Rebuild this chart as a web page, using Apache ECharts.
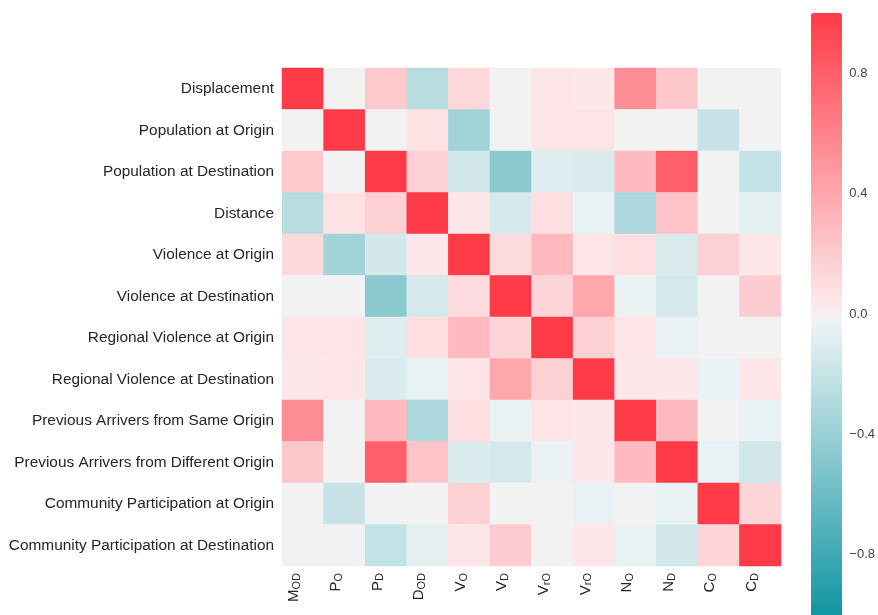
<!DOCTYPE html>
<html>
<head>
<meta charset="utf-8">
<title>Correlation matrix</title>
<script src="https://cdn.jsdelivr.net/npm/echarts@6/dist/echarts.min.js"></script>
<style>
  html, body { margin: 0; padding: 0; background: #ffffff; }
  #chart { width: 878px; height: 615px; }
</style>
</head>
<body>
<div id="chart"></div>
<script>
// Variable names, top to bottom
const rowLabels = [
  'Displacement',
  'Population at Origin',
  'Population at Destination',
  'Distance',
  'Violence at Origin',
  'Violence at Destination',
  'Regional Violence at Origin',
  'Regional Violence at Destination',
  'Previous Arrivers from Same Origin',
  'Previous Arrivers from Different Origin',
  'Community Participation at Origin',
  'Community Participation at Destination'
];

// Short column codes (rich text: capital + small-caps subscript)
const colLabels = [
  'M{s|OD}', 'P{s|O}', 'P{s|D}', 'D{s|OD}', 'V{s|O}', 'V{s|D}',
  'V{s|rO}', 'V{s|rO}', 'N{s|O}', 'N{s|D}', 'C{s|O}', 'C{s|D}'
];

// Colour bar tick labels
const colorbarTicks = [-0.8, -0.4, 0.0, 0.4, 0.8];

// Correlation coefficients, one row per variable
const corrDisplacement   = [ 1.00,  0.00,  0.22, -0.25,  0.13,  0.00,  0.07,  0.05,  0.55,  0.23,  0.00,  0.00];
const corrPopOrigin      = [ 0.00,  1.00,  0.00,  0.08, -0.35,  0.00,  0.07,  0.07,  0.00,  0.00, -0.18,  0.00];
const corrPopDest        = [ 0.22,  0.00,  1.00,  0.18, -0.13, -0.45, -0.08, -0.10,  0.30,  0.80,  0.00, -0.20];
const corrDistance       = [-0.25,  0.08,  0.18,  1.00,  0.05, -0.12,  0.10, -0.04, -0.30,  0.25,  0.00, -0.06];
const corrViolOrigin     = [ 0.13, -0.35, -0.13,  0.05,  1.00,  0.12,  0.30,  0.07,  0.10, -0.10,  0.18,  0.06];
const corrViolDest       = [ 0.00,  0.00, -0.45, -0.12,  0.12,  1.00,  0.15,  0.40, -0.03, -0.12,  0.00,  0.20];
const corrRegViolOrigin  = [ 0.07,  0.07, -0.08,  0.10,  0.30,  0.15,  1.00,  0.18,  0.07, -0.03,  0.00,  0.00];
const corrRegViolDest    = [ 0.05,  0.07, -0.10, -0.04,  0.07,  0.40,  0.18,  1.00,  0.05,  0.05, -0.04,  0.06];
const corrPrevSame       = [ 0.55,  0.00,  0.30, -0.30,  0.10, -0.03,  0.07,  0.05,  1.00,  0.30,  0.00, -0.04];
const corrPrevDiff       = [ 0.23,  0.00,  0.80,  0.25, -0.10, -0.12, -0.03,  0.05,  0.30,  1.00, -0.04, -0.14];
const corrCommOrigin     = [ 0.00, -0.18,  0.00,  0.00,  0.18,  0.00,  0.00, -0.04,  0.00, -0.04,  1.00,  0.15];
const corrCommDest       = [ 0.00,  0.00, -0.20, -0.06,  0.06,  0.20,  0.00,  0.06, -0.04, -0.14,  0.15,  1.00];

const corrRows = [
  corrDisplacement, corrPopOrigin, corrPopDest, corrDistance,
  corrViolOrigin, corrViolDest, corrRegViolOrigin, corrRegViolDest,
  corrPrevSame, corrPrevDiff, corrCommOrigin, corrCommDest
];

// [column, row, value] triples for the heatmap series
const cells = [];
corrRows.forEach((row, i) => row.forEach((v, j) => cells.push([j, i, v])));

// Diverging teal -> light grey -> red ramp
const anchors = [
  [-1.00, [12, 148, 160]],
  [-0.03, [234, 242, 244]],
  [ 0.00, [242, 242, 242]],
  [ 0.03, [253, 235, 237]],
  [ 1.00, [255, 59, 72]]
];
function rampColor(v) {
  for (let k = 1; k < anchors.length; k++) {
    if (v <= anchors[k][0]) {
      const [v0, c0] = anchors[k - 1];
      const [v1, c1] = anchors[k];
      const t = (v - v0) / (v1 - v0);
      const c = c0.map((x, n) => Math.round(x + t * (c1[n] - x)));
      return 'rgb(' + c.join(',') + ')';
    }
  }
  return 'rgb(' + anchors[anchors.length - 1][1].join(',') + ')';
}
const rampColors = [];
for (let k = 0; k <= 200; k++) rampColors.push(rampColor(-1 + k * 0.01));

const textColor = '#262626';
const fontFamily = '"Liberation Sans", Arial, Helvetica, sans-serif';

const chart = echarts.init(document.getElementById('chart'), null, { renderer: 'canvas' });

chart.setOption({
  backgroundColor: '#ffffff',
  animation: false,
  textStyle: { fontFamily: fontFamily },
  grid: [
    { left: 282, top: 68, width: 499, height: 498 },
    { left: 811, top: 13, width: 31, height: 609 }
  ],
  xAxis: [
    {
      type: 'category',
      gridIndex: 0,
      data: colLabels,
      position: 'bottom',
      axisLine: { show: false },
      axisTick: { show: false },
      splitLine: { show: false },
      axisLabel: {
        interval: 0,
        rotate: 90,
        margin: 7,
        color: textColor,
        fontSize: 15,
        fontFamily: fontFamily,
        lineHeight: 17,
        verticalAlign: 'bottom',
        rich: {
          s: { fontSize: 11, lineHeight: 17, verticalAlign: 'bottom', color: textColor, fontFamily: fontFamily }
        }
      }
    },
    {
      type: 'value',
      gridIndex: 1,
      show: false,
      min: 0,
      max: 1
    }
  ],
  yAxis: [
    {
      type: 'category',
      gridIndex: 0,
      data: rowLabels,
      inverse: true,
      axisLine: { show: false },
      axisTick: { show: false },
      splitLine: { show: false },
      axisLabel: {
        interval: 0,
        margin: 8,
        color: textColor,
        fontSize: 15.4,
        fontFamily: fontFamily
      }
    },
    {
      type: 'value',
      gridIndex: 1,
      min: -1,
      max: 1,
      interval: 0.2,
      position: 'right',
      axisLine: { show: false },
      axisTick: { show: false },
      splitLine: { show: false },
      axisLabel: {
        margin: 13,
        color: '#444444',
        fontSize: 13,
        fontFamily: fontFamily,
        showMinLabel: false,
        showMaxLabel: false,
        formatter: function (v) {
          const hit = colorbarTicks.find(t => Math.abs(t - v) < 1e-6);
          if (hit === undefined) return '';
          return (hit < 0 ? '\u2212' : '') + Math.abs(hit).toFixed(1);
        }
      }
    }
  ],
  visualMap: {
    type: 'continuous',
    min: -1,
    max: 1,
    seriesIndex: 0,
    calculable: false,
    hoverLink: false,
    orient: 'vertical',
    left: 811,
    top: 13,
    itemWidth: 31,
    itemHeight: 609,
    padding: 0,
    text: null,
    showLabel: false,
    inRange: { color: rampColors }
  },
  series: [
    {
      type: 'heatmap',
      xAxisIndex: 0,
      yAxisIndex: 0,
      data: cells,
      itemStyle: { borderWidth: 0 },
      emphasis: { disabled: true },
      label: { show: false }
    }
  ]
});
</script>
</body>
</html>
